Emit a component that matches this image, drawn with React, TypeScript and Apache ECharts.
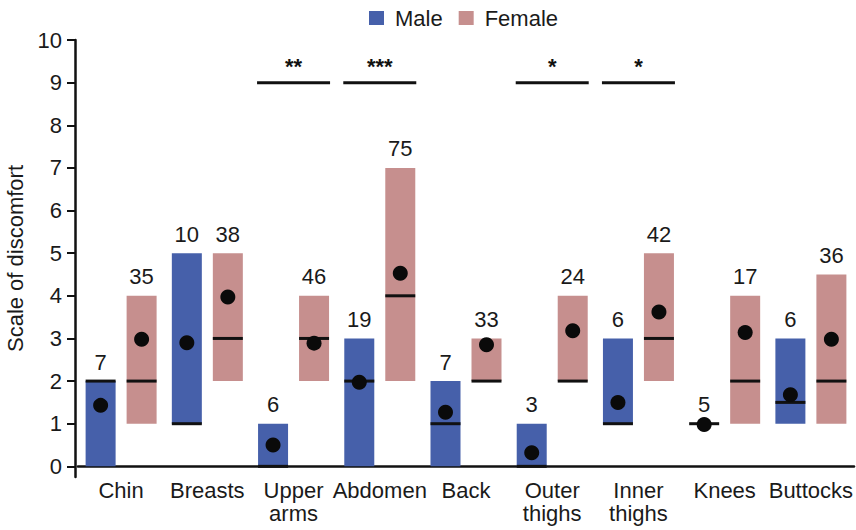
import React, { useEffect, useRef } from "react";
import * as echarts from "echarts";

const categories = ["Chin", "Breasts", "Upper\narms", "Abdomen", "Back", "Outer\nthighs", "Inner\nthighs", "Knees", "Buttocks"];

// Male: interquartile range, median, mean, n
const maleLow = [0, 1, 0, 0, 0, 0, 1, 1, 1];
const maleHigh = [2, 5, 1, 3, 2, 1, 3, 1, 3];
const maleMedian = [2, 1, 0, 2, 1, 0, 1, 1, 1.5];
const maleMean = [1.43, 2.9, 0.5, 1.97, 1.27, 0.32, 1.5, 0.98, 1.68];
const maleN = [7, 10, 6, 19, 7, 3, 6, 5, 6];

// Female
const femaleLow = [1, 2, 2, 2, 2, 2, 2, 1, 1];
const femaleHigh = [4, 5, 4, 7, 3, 4, 5, 4, 4.5];
const femaleMedian = [2, 3, 3, 4, 2, 2, 3, 2, 2];
const femaleMean = [2.98, 3.97, 2.89, 4.53, 2.85, 3.18, 3.62, 3.14, 2.98];
const femaleN = [35, 38, 46, 75, 33, 24, 42, 17, 36];

// Significance markers
const sigCategoryIndex = [2, 3, 5, 6];
const sigStars = ["**", "***", "*", "*"];
const sigLevel = 9;

const yTicks = [0, 1, 2, 3, 4, 5, 6, 7, 8, 9, 10];

const FONT = "'Liberation Sans', Arial, Helvetica, sans-serif";
const FS = 22;
const MALE_COLOR = "#4660AA";
const FEMALE_COLOR = "#C68F8E";
const BAR_W = 30;
const OFFSET = 20.5;

function buildData(low: number[], high: number[], med: number[], mean: number[], n: number[]) {
  return categories.map((_, i) => [i, low[i], high[i], med[i], mean[i], n[i]]);
}

function makeBoxRender(offset: number, color: string) {
  return (params: any, api: any) => {
    const ci = api.value(0);
    const low = api.value(1);
    const high = api.value(2);
    const med = api.value(3);
    const mean = api.value(4);
    const n = api.value(5);
    const cx = api.coord([ci, 0])[0] + offset;
    const x = cx - BAR_W / 2;
    const yLow = api.coord([ci, low])[1];
    const yHigh = api.coord([ci, high])[1];
    const yMed = api.coord([ci, med])[1];
    const yMean = api.coord([ci, mean])[1];
    return {
      type: "group",
      children: [
        {
          type: "rect",
          shape: { x, y: yHigh, width: BAR_W, height: Math.max(yLow - yHigh, 0) },
          style: { fill: color },
        },
        {
          type: "line",
          shape: { x1: x, y1: yMed, x2: x + BAR_W, y2: yMed },
          style: { stroke: "#111", lineWidth: 3 },
        },
        {
          type: "circle",
          shape: { cx, cy: yMean, r: 7.5 },
          style: { fill: "#0a0a0a" },
        },
        {
          type: "text",
          style: {
            text: String(n),
            x: cx,
            y: yHigh - 8,
            align: "center",
            verticalAlign: "bottom",
            fontSize: FS,
            fontFamily: FONT,
            fill: "#1a1a1a",
          },
        },
      ],
    };
  };
}

export default function App() {
  const ref = useRef<HTMLDivElement>(null);
  useEffect(() => {
    if (!ref.current) return;
    const chart = echarts.init(ref.current, undefined, { renderer: "svg" });
    chart.setOption({
      animation: false,
      backgroundColor: "#ffffff",
      legend: {
        data: ["Male", "Female"],
        left: 364,
        top: 2,
        icon: "rect",
        itemWidth: 15,
        itemHeight: 14,
        itemGap: 16,
        textStyle: { fontSize: FS, fontFamily: FONT, color: "#1a1a1a", padding: [0, 0, 0, 6] },
      },
      grid: { left: 78, right: 2, top: 40, bottom: 53, outerBoundsMode: "none", containLabel: false },
      xAxis: {
        type: "category",
        data: categories,
        axisLine: { lineStyle: { color: "#111", width: 2.5 } },
        axisTick: { show: false },
        axisLabel: { fontSize: FS, fontFamily: FONT, color: "#1a1a1a", margin: 2, lineHeight: 23, interval: 0 },
      },
      yAxis: {
        type: "value",
        min: -0.25,
        max: 10,
        offset: 3,
        splitLine: { show: false },
        axisLine: { show: true, lineStyle: { color: "#111", width: 2.5 } },
        axisTick: { show: true, length: 8, lineStyle: { color: "#111", width: 2 }, customValues: yTicks },
        axisLabel: { fontSize: FS, fontFamily: FONT, color: "#1a1a1a", margin: 13, customValues: yTicks },
        name: "Scale of discomfort",
        nameLocation: "middle",
        nameGap: 47,
        nameTextStyle: { fontSize: FS, fontFamily: FONT, color: "#1a1a1a" },
      },
      series: [
        {
          name: "Male",
          type: "custom",
          itemStyle: { color: MALE_COLOR },
          encode: { x: 0, y: [1, 2] },
          data: buildData(maleLow, maleHigh, maleMedian, maleMean, maleN),
          renderItem: makeBoxRender(-OFFSET, MALE_COLOR),
        },
        {
          name: "Female",
          type: "custom",
          itemStyle: { color: FEMALE_COLOR },
          encode: { x: 0, y: [1, 2] },
          data: buildData(femaleLow, femaleHigh, femaleMedian, femaleMean, femaleN),
          renderItem: makeBoxRender(OFFSET, FEMALE_COLOR),
        },
        {
          name: "sig",
          type: "custom",
          encode: { x: 0, y: 1 },
          data: sigCategoryIndex.map((ci, i) => [ci, sigLevel, i]),
          renderItem: (params: any, api: any) => {
            const ci = api.value(0);
            const [cx, cy] = api.coord([ci, api.value(1)]);
            const idx = api.value(2);
            return {
              type: "group",
              children: [
                {
                  type: "line",
                  shape: { x1: cx - 36.5, y1: cy, x2: cx + 36.5, y2: cy },
                  style: { stroke: "#111", lineWidth: 3 },
                },
                {
                  type: "text",
                  style: {
                    text: sigStars[idx],
                    x: cx,
                    y: cy - 16,
                    align: "center",
                    verticalAlign: "middle",
                    fontSize: 22,
                    fontWeight: "bold",
                    fontFamily: FONT,
                    fill: "#111",
                  },
                },
              ],
            };
          },
        },
      ],
    });
    return () => chart.dispose();
  }, []);
  return <div ref={ref} style={{ position: "fixed", left: 0, top: 0, width: 856, height: 530 }} />;
}
